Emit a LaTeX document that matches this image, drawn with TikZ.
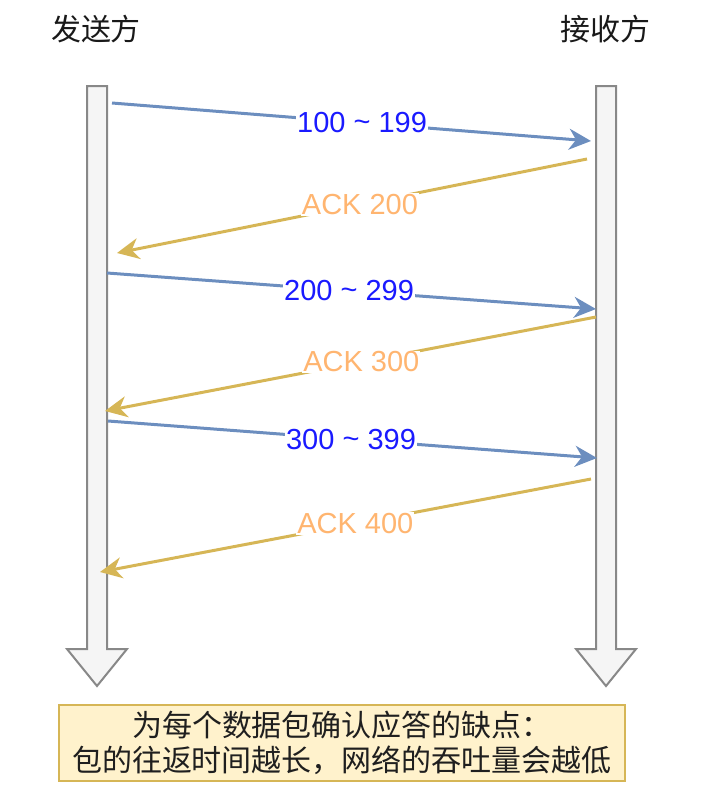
\documentclass[tikz,border=0pt]{standalone}
\usepackage{fontspec}
\setmainfont{Liberation Sans}
\newfontfamily\cjk{Noto Sans CJK SC}
\usetikzlibrary{arrows.meta}
\definecolor{lifefill}{HTML}{F5F5F5}
\definecolor{lifedraw}{HTML}{888888}
\definecolor{bluel}{HTML}{6C8EBF}
\definecolor{yell}{HTML}{D6B656}
\definecolor{bluet}{HTML}{1A1AFF}
\definecolor{orat}{HTML}{FFB570}
\definecolor{notefill}{HTML}{FFF2CC}
\tikzset{
  lifeline/.style={fill=lifefill,draw=lifedraw,line width=2pt,line join=miter},
  sendarrow/.style={draw=bluel,line width=3pt,-{Stealth[length=22pt,width=21pt,inset=7pt]}},
  ackarrow/.style={draw=yell,line width=3pt,-{Stealth[length=22pt,width=21pt,inset=7pt]}},
  seqlabel/.style={fill=white,text=bluet,font=\fontsize{29}{34}\selectfont,inner sep=1pt},
  acklabel/.style={fill=white,text=orat,font=\fontsize{29}{34}\selectfont,inner sep=1pt},
  title/.style={font=\cjk\fontsize{30}{34}\selectfont,text=black!90},
  note/.style={fill=notefill,draw=yell,line width=1.5pt,align=center,
    font=\cjk\fontsize{30}{35}\selectfont,text=black!88,inner sep=0pt}
}
\begin{document}
\begin{tikzpicture}[x=1pt,y=-1pt]
\useasboundingbox (0,0) rectangle (710,796);
% lifelines
\draw[lifeline] (87,86) -- (107,86) -- (107,649) -- (127,649) -- (97,686) -- (67,649) -- (87,649) -- cycle;
\draw[lifeline] (596,86) -- (616,86) -- (616,649) -- (636,649) -- (606,686) -- (576,649) -- (596,649) -- cycle;
% titles
\node[title] (sender) at (96,29) {发送方};
\node[title] (receiver) at (605,29) {接收方};
% endpoints
\coordinate (s1) at (112,103);  \coordinate (r1) at (591,141);
\coordinate (r2) at (587,159);  \coordinate (s2) at (117,253);
\coordinate (s3) at (107,273);  \coordinate (r3) at (596,309);
\coordinate (r4) at (596,317);  \coordinate (s4) at (105,411);
\coordinate (s5) at (108,421);  \coordinate (r5) at (597,458);
\coordinate (r6) at (591,479);  \coordinate (s6) at (100,572);
% messages
\draw[sendarrow] (s1) -- node[seqlabel,pos=0.522] (l1) {100 \raisebox{1pt}{\char`\~} 199} (r1);
\draw[ackarrow] (r2) -- node[acklabel,pos=0.483] (l2) {ACK 200} (s2);
\draw[sendarrow] (s3) -- node[seqlabel,pos=0.495] (l3) {200 \raisebox{1pt}{\char`\~} 299} (r3);
\draw[ackarrow] (r4) -- node[acklabel,pos=0.478] (l4) {ACK 300} (s4);
\draw[sendarrow] (s5) -- node[seqlabel,pos=0.497] (l5) {300 \raisebox{1pt}{\char`\~} 399} (r5);
\draw[ackarrow] (r6) -- node[acklabel,pos=0.48] (l6) {ACK 400} (s6);
% note
\node[note,minimum width=566pt,minimum height=76pt] (noteb) at (342,743)
  {为每个数据包确认应答的缺点：\\包的往返时间越长，网络的吞吐量会越低};
\end{tikzpicture}
\end{document}
